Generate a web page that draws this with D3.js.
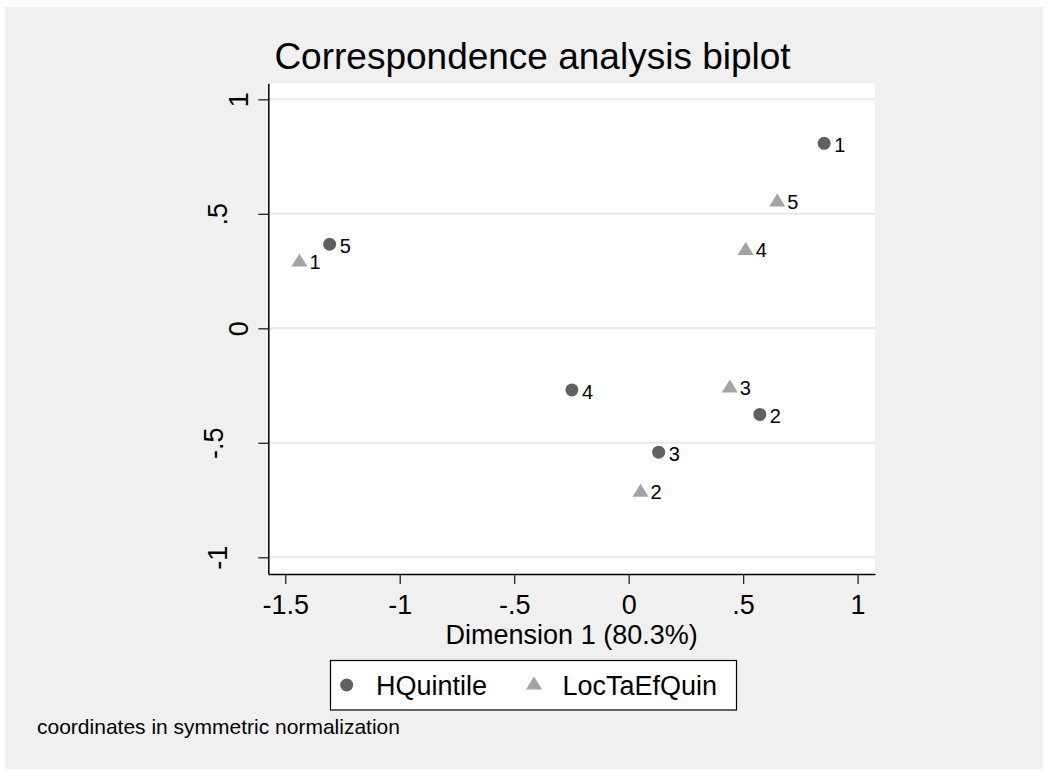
<!DOCTYPE html>
<html>
<head>
<meta charset="utf-8">
<script src="https://cdn.jsdelivr.net/npm/d3@7/dist/d3.min.js"></script>
<style>
  html, body { margin: 0; padding: 0; background: #fff; }
  svg { display: block; font-family: "Liberation Sans", Arial, sans-serif; }
</style>
</head>
<body>
<svg id="graph" width="1050" height="770"></svg>
<script>
// tick values and their Stata-style labels
const xTicks = [-1.5, -1, -0.5, 0, 0.5, 1];
const xTickLabels = ["-1.5", "-1", "-.5", "0", ".5", "1"];
const yTicks = [-1, -0.5, 0, 0.5, 1];
const yTickLabels = ["-1", "-.5", "0", ".5", "1"];

// row points (HQuintile)
const hqLabels = ["1", "2", "3", "4", "5"];
const hqX = [0.854, 0.573, 0.131, -0.248, -1.306];
const hqY = [0.808, -0.376, -0.541, -0.269, 0.367];

// column points (LocTaEfQuin)
const locLabels = ["1", "2", "3", "4", "5"];
const locX = [-1.438, 0.052, 0.442, 0.511, 0.649];
const locY = [0.298, -0.707, -0.252, 0.349, 0.560];

const svg = d3.select("#graph");

// chart frame
const plot = { left: 268.3, right: 875, top: 83.3, bottom: 574 };

const x = d3.scaleLinear().domain([-1.574, 1.076]).range([plot.left, plot.right]);
const y = d3.scaleLinear().domain([-1.073, 1.070]).range([plot.bottom, plot.top]);

// background
svg.append("rect")
    .attr("x", 5).attr("y", 7)
    .attr("width", 1038).attr("height", 762)
    .attr("fill", "#f0f0f0");

svg.append("rect")
    .attr("x", plot.left).attr("y", plot.top)
    .attr("width", plot.right - plot.left).attr("height", plot.bottom - plot.top)
    .attr("fill", "#fff");

// horizontal grid
svg.append("g")
    .selectAll("line")
    .data(yTicks)
    .join("line")
    .attr("x1", plot.left).attr("x2", plot.right)
    .attr("y1", d => y(d)).attr("y2", d => y(d))
    .attr("stroke", "#e8e8e8")
    .attr("stroke-width", 2);

// x axis
const xAxis = svg.append("g")
    .attr("transform", `translate(0,${plot.bottom})`)
    .call(d3.axisBottom(x)
        .tickValues(xTicks)
        .tickFormat((d, i) => xTickLabels[i])
        .tickSize(10)
        .tickSizeOuter(0)
        .tickPadding(11));
xAxis.select(".domain").attr("stroke", "#000").attr("stroke-width", 1.5);
xAxis.selectAll(".tick line").attr("stroke", "#222").attr("stroke-width", 1.3);
xAxis.selectAll(".tick text")
    .attr("fill", "#000")
    .style("font-size", "27px")
    .style("font-family", "'Liberation Sans', Arial, sans-serif");

// y axis, labels turned vertical
const yAxis = svg.append("g")
    .attr("transform", `translate(${plot.left},0)`)
    .call(d3.axisLeft(y)
        .tickValues(yTicks)
        .tickFormat((d, i) => yTickLabels[i])
        .tickSize(10)
        .tickSizeOuter(0));
yAxis.select(".domain").attr("stroke", "#000").attr("stroke-width", 1.5);
yAxis.selectAll(".tick line").attr("stroke", "#222").attr("stroke-width", 1.3);
yAxis.selectAll(".tick text")
    .attr("x", 0).attr("y", 0).attr("dy", null)
    .attr("text-anchor", "middle")
    .attr("transform", (d, i) => {
        const n = yTickLabels[i].length;
        const off = n > 1 ? 41.6 + (n - 2) * 3.4 : 20;
        return `translate(${-off},0) rotate(-90)`;
    })
    .attr("fill", "#000")
    .style("font-size", "27px")
    .style("font-family", "'Liberation Sans', Arial, sans-serif");

// title and axis title
svg.append("text")
    .attr("x", 532.5).attr("y", 69.3)
    .attr("text-anchor", "middle")
    .style("font-size", "37px")
    .text("Correspondence analysis biplot");

svg.append("text")
    .attr("x", (plot.left + plot.right) / 2).attr("y", 644)
    .attr("text-anchor", "middle")
    .style("font-size", "27px")
    .text("Dimension 1 (80.3%)");

// markers
const triangle = "M0,-6.5L8,6.5L-8,6.5Z";
const hq = hqLabels.map((l, i) => ({ label: l, x: hqX[i], y: hqY[i] }));
const loc = locLabels.map((l, i) => ({ label: l, x: locX[i], y: locY[i] }));

svg.append("g")
    .selectAll("circle")
    .data(hq)
    .join("circle")
    .attr("cx", d => x(d.x)).attr("cy", d => y(d.y))
    .attr("r", 6.5)
    .attr("fill", "#606060");

svg.append("g")
    .selectAll("path")
    .data(loc)
    .join("path")
    .attr("d", triangle)
    .attr("transform", d => `translate(${x(d.x)},${y(d.y)})`)
    .attr("fill", "#a3a3a3");

// point labels
svg.append("g")
    .selectAll("text")
    .data(hq.concat(loc))
    .join("text")
    .attr("x", d => x(d.x) + 10)
    .attr("y", d => y(d.y) + 9)
    .style("font-size", "20px")
    .attr("fill", "#000")
    .text(d => d.label);

// legend
const legend = svg.append("g");
legend.append("rect")
    .attr("x", 330.5).attr("y", 660.5)
    .attr("width", 406).attr("height", 49.5)
    .attr("fill", "#fff")
    .attr("stroke", "#000")
    .attr("stroke-width", 1.2);
legend.append("circle")
    .attr("cx", 346.7).attr("cy", 685)
    .attr("r", 6.5)
    .attr("fill", "#606060");
legend.append("text")
    .attr("x", 376).attr("y", 694.5)
    .style("font-size", "27px")
    .text("HQuintile");
legend.append("path")
    .attr("d", triangle)
    .attr("transform", "translate(534,683)")
    .attr("fill", "#a3a3a3");
legend.append("text")
    .attr("x", 562.5).attr("y", 694.5)
    .style("font-size", "27px")
    .text("LocTaEfQuin");

// note
svg.append("text")
    .attr("x", 37).attr("y", 734)
    .style("font-size", "21px")
    .text("coordinates in symmetric normalization");
</script>
</body>
</html>
